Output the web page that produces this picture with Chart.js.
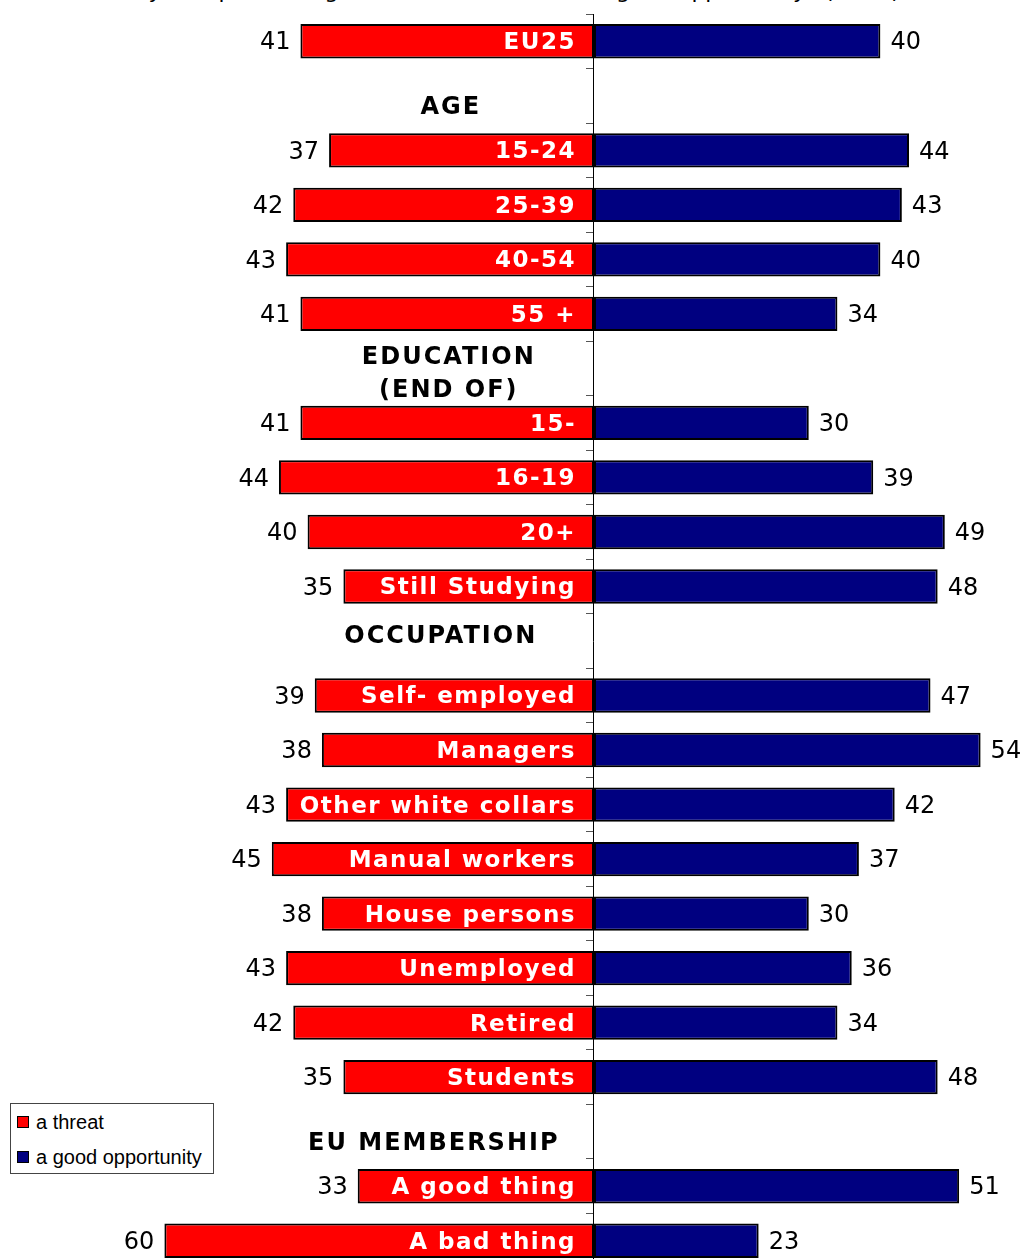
<!DOCTYPE html>
<html>
<head>
<meta charset="utf-8">
<title>Globalisation: a threat or a good opportunity</title>
<script src="https://cdn.jsdelivr.net/npm/chart.js@4.4.1/dist/chart.umd.min.js"></script>
<style>
  html, body { margin: 0; padding: 0; background: #fff; overflow: hidden; }
  #wrap { position: relative; width: 1021px; height: 1259px; overflow: hidden; }
  #title {
    position: absolute; left: 0; top: -21px; width: 1021px; text-align: center;
    font: 22px "DejaVu Sans", Verdana, sans-serif; line-height: 24px; color: #000; white-space: nowrap;
  }
  #chart { position: absolute; left: 0; top: 0; }
  #legend {
    position: absolute; left: 10px; top: 1103px; width: 202px; height: 69px;
    border: 1px solid #444; background: #fff;
    font: 20px "Liberation Sans", Arial, sans-serif; color: #000;
  }
  #legend .item { position: absolute; left: 6px; display: flex; align-items: center; height: 24px; }
  #legend .sw { width: 10px; height: 10px; border: 1px solid #000; margin-right: 7px; }
</style>
</head>
<body>
<div id="wrap">
  <div id="title">In your opinion, is globalisation a threat or a good opportunity? (% EU)</div>
  <canvas id="chart" width="1021" height="1282"></canvas>
  <div id="legend">
    <div class="item" style="top:6px"><span class="sw" style="background:#ff0000"></span>a threat</div>
    <div class="item" style="top:41px"><span class="sw" style="background:#000080"></span>a good opportunity</div>
  </div>
</div>
<script>
// rows top to bottom; null values mark section header rows
const rowLabels = [
  'EU25', 'AGE', '15-24', '25-39', '40-54', '55 +',
  'EDUCATION\n(END OF)', '15-', '16-19', '20+', 'Still Studying',
  'OCCUPATION', 'Self- employed', 'Managers', 'Other white collars', 'Manual workers',
  'House persons', 'Unemployed', 'Retired', 'Students',
  'EU MEMBERSHIP', 'A good thing', 'A bad thing'
];
const threat = [41, null, 37, 42, 43, 41, null, 41, 44, 40, 35, null, 39, 38, 43, 45, 38, 43, 42, 35, null, 33, 60];
const opportunity = [40, null, 44, 43, 40, 34, null, 30, 39, 49, 48, null, 47, 54, 42, 37, 30, 36, 34, 48, null, 51, 23];
const seriesNames = ['a threat', 'a good opportunity'];

const RED = '#ff0000';
const NAVY = '#000080';

// header text nudges (pixels) to sit like the original text boxes
const headerNudge = {
  'AGE': [0, 12],
  'EDUCATION\n(END OF)': [-2, 6],
  'OCCUPATION': [-10, -4],
  'EU MEMBERSHIP': [-17, 12]
};

const labelPlugin = {
  id: 'barLabels',
  afterDatasetsDraw(chart) {
    const ctx = chart.ctx;
    const xs = chart.scales.x;
    const ys = chart.scales.y;
    const zero = xs.getPixelForValue(0);
    ctx.save();
    ctx.textBaseline = 'middle';
    rowLabels.forEach((label, i) => {
      const y = ys.getPixelForValue(i);
      if (threat[i] == null) {
        const nudge = headerNudge[label] || [0, 0];
        ctx.fillStyle = '#000';
        ctx.font = 'bold 24px "DejaVu Sans", Verdana, sans-serif';
        ctx.letterSpacing = '2px';
        ctx.textAlign = 'center';
        const lines = label.split('\n');
        const cx = xs.getPixelForValue(-20) + nudge[0];
        lines.forEach((ln, k) => {
          ctx.fillText(ln, cx, y + nudge[1] + (k - (lines.length - 1) / 2) * 33);
        });
        return;
      }
      ctx.letterSpacing = '1.5px';
      ctx.fillStyle = '#fff';
      ctx.font = 'bold 23px "DejaVu Sans", Verdana, sans-serif';
      ctx.textAlign = 'right';
      ctx.fillText(label, zero - 18, y + 2);

      ctx.letterSpacing = '0px';
      ctx.fillStyle = '#000';
      ctx.font = '24px "DejaVu Sans", Verdana, sans-serif';
      ctx.textAlign = 'right';
      ctx.fillText(String(threat[i]), xs.getPixelForValue(-threat[i]) - 10, y + 2);
      ctx.textAlign = 'left';
      ctx.fillText(String(opportunity[i]), xs.getPixelForValue(opportunity[i]) + 10, y + 2);
    });
    ctx.restore();
  }
};

new Chart(document.getElementById('chart'), {
  type: 'bar',
  data: {
    labels: rowLabels,
    datasets: [
      {
        label: seriesNames[0],
        data: threat.map(v => v == null ? null : -v),
        backgroundColor: RED,
        borderColor: '#000',
        borderWidth: 2,
        borderSkipped: false
      },
      {
        label: seriesNames[1],
        data: opportunity,
        backgroundColor: NAVY,
        borderColor: '#000',
        borderWidth: 2,
        borderSkipped: false
      }
    ]
  },
  options: {
    indexAxis: 'y',
    responsive: false,
    animation: false,
    devicePixelRatio: 1,
    barPercentage: 0.63,
    categoryPercentage: 1,
    layout: { padding: { top: 14, bottom: 14, left: 0, right: 0 } },
    plugins: {
      legend: { display: false },
      tooltip: { enabled: false },
      title: { display: false }
    },
    scales: {
      x: {
        stacked: true,
        display: false,
        min: -82.96,
        max: 59.64
      },
      y: {
        stacked: true,
        position: { x: 0 },
        border: { display: true, color: '#000', width: 1 },
        grid: { drawOnChartArea: false, drawTicks: true, tickLength: 7, color: '#555', offset: true },
        ticks: { display: false }
      }
    }
  },
  plugins: [labelPlugin]
});
</script>
</body>
</html>
